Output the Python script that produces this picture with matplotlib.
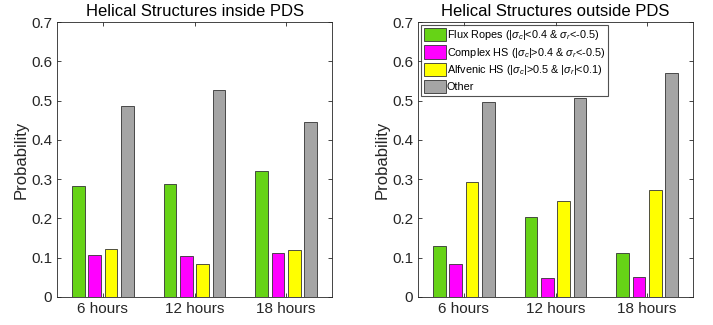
import numpy as np
import matplotlib
matplotlib.use("Agg")
from matplotlib import pyplot as plt

plt.rcParams['font.family'] = ['Liberation Sans', 'DejaVu Sans']
plt.rcParams['mathtext.fontset'] = 'custom'
plt.rcParams['mathtext.it'] = 'Liberation Sans:italic'
plt.rcParams['mathtext.rm'] = 'Liberation Sans'

groups = ['6 hours', '12 hours', '18 hours']
series = ['Flux Ropes (|$\\sigma_c$|<0.4 & $\\sigma_r$<-0.5)',
          'Complex HS (|$\\sigma_c$|>0.4 & $\\sigma_r$<-0.5)',
          'Alfvenic HS (|$\\sigma_c$|>0.5 & |$\\sigma_r$|<0.1)',
          'Other']
colors = ['#66d316', '#ff00ff', '#ffff00', '#a5a5a5']

inside = [[0.283, 0.287, 0.322],
          [0.107, 0.105, 0.113],
          [0.122, 0.083, 0.120],
          [0.487, 0.526, 0.445]]
outside = [[0.130, 0.204, 0.112],
           [0.084, 0.049, 0.051],
           [0.294, 0.245, 0.273],
           [0.497, 0.507, 0.571]]

fig = plt.figure(figsize=(7.13, 3.25), dpi=100)
ax1 = fig.add_axes([57/713, 1 - 297/325, 275/713, 275/325])
ax2 = fig.add_axes([418/713, 1 - 297/325, 275/713, 275/325])

x = np.arange(1, 4)
offsets = [-0.267, -0.089, 0.089, 0.267]
edge = '#333333'

for ax, data, title in [(ax1, inside, 'Helical Structures inside PDS'),
                        (ax2, outside, 'Helical Structures outside PDS')]:
    for i in range(4):
        ax.bar(x + offsets[i], data[i], width=0.14, color=colors[i],
               edgecolor=edge, linewidth=0.6, label=series[i])
    ax.set_xlim(0.5, 3.5)
    ax.set_ylim(0, 0.7)
    ax.set_yticks(np.arange(0, 0.71, 0.1))
    ax.set_yticklabels(['0', '0.1', '0.2', '0.3', '0.4', '0.5', '0.6', '0.7'])
    ax.set_xticks(x)
    ax.set_xticklabels(groups)
    ax.tick_params(direction='in', top=True, right=True, length=3,
                   labelsize=11, colors='#262626', width=0.6)
    for s in ax.spines.values():
        s.set_color('#262626')
        s.set_linewidth(0.6)
    ax.set_ylabel('Probability', fontsize=12, color='#262626', labelpad=2)
    ax.set_title(title, fontsize=12, color='#000000', pad=4)

leg = ax2.legend(loc='upper left', fontsize=7.8, frameon=True, fancybox=False,
                 edgecolor='#262626', handlelength=2.0, handleheight=1.5,
                 handletextpad=0.1, borderpad=0.25, labelspacing=0.3,
                 borderaxespad=0.3)
leg.get_frame().set_linewidth(0.8)

fig.savefig('out.png', dpi=100)
